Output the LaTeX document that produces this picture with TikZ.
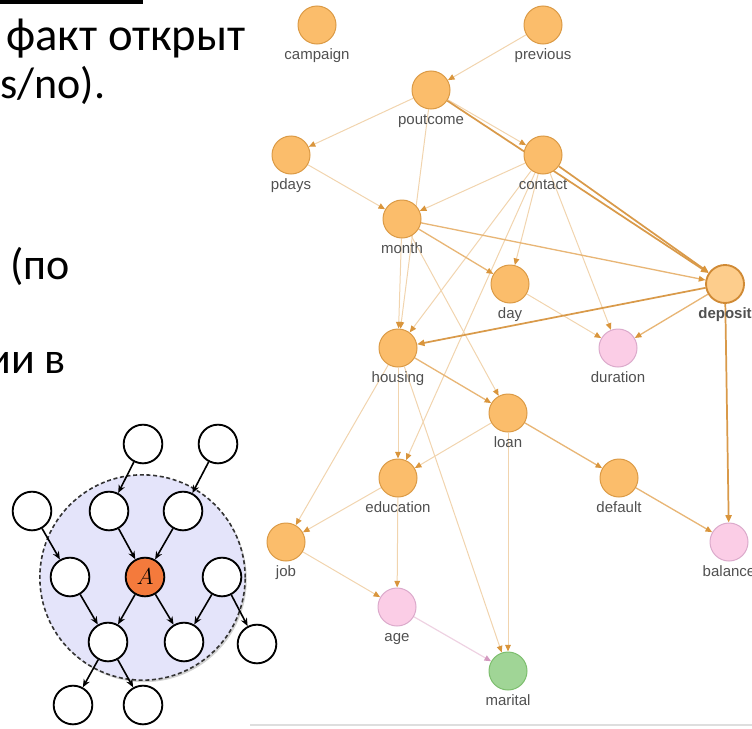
\documentclass[tikz,border=0pt]{standalone}
\usepackage{fontspec}
\setmainfont{Liberation Sans}
\newfontfamily\ruf{Carlito}
\usetikzlibrary{arrows.meta,shadows,backgrounds}
\definecolor{orfill}{HTML}{FBBD6B}
\definecolor{orline}{HTML}{DB9A45}
\definecolor{depfill}{HTML}{FDCD8C}
\definecolor{depline}{HTML}{D08A35}
\definecolor{pkfill}{HTML}{FBCDE6}
\definecolor{pkline}{HTML}{DBAACB}
\definecolor{grfill}{HTML}{A0D596}
\definecolor{grline}{HTML}{7DBE6E}
\definecolor{labcol}{HTML}{505050}
\definecolor{edL}{HTML}{F1D4AE}
\definecolor{edM}{HTML}{E8B676}
\definecolor{edD}{HTML}{D99A4A}
\definecolor{tipcol}{HTML}{D9953C}
\definecolor{edP}{HTML}{EED2E2}
\definecolor{tipP}{HTML}{D49AC0}
\definecolor{lav}{HTML}{E4E4FA}
\definecolor{aorange}{HTML}{F47A3C}
\tikzset{
  gn/.style={circle, minimum size=28.5pt, inner sep=0pt, line width=0.75pt, draw=orline, fill=orfill},
  pk/.style={gn, draw=pkline, fill=pkfill},
  gr/.style={gn, draw=grline, fill=grfill},
  dep/.style={gn, draw=depline, fill=depfill, line width=1.4pt},
  lab/.style={font=\fontsize{11.25pt}{12pt}\selectfont, text=labcol, inner sep=0pt},
  eL/.style={draw=edL, line width=0.75pt, -{Triangle[length=5pt,width=4.2pt,color=tipcol]}},
  eM/.style={draw=edM, line width=1pt, -{Triangle[length=5pt,width=4.2pt,color=tipcol]}},
  eD/.style={draw=edD, line width=1.3pt, -{Triangle[length=5.5pt,width=4.6pt,color=tipcol]}},
  eP/.style={draw=edP, line width=0.9pt, -{Triangle[length=5pt,width=4.2pt,color=tipP]}},
  mb/.style={circle, draw=black, line width=1.4pt, fill=white, minimum size=29pt, inner sep=0pt},
  mba/.style={draw=black, line width=1.2pt, -{Stealth[length=6pt,width=5pt]}},
  rut/.style={font=\ruf\fontsize{33pt}{36pt}\selectfont, inner sep=0pt, text=black},
}
\newcommand{\gnode}[5]{%
  \node[#4] (#1) at (#2,#3) {};
  \node[lab,anchor=base] (#1-l) at (#2,#3+34) {#5};}
\begin{document}
\begin{tikzpicture}[x=0.75pt,y=-0.75pt]
\useasboundingbox (0,0) rectangle (752,728);
\clip (0,0) rectangle (752,728);

% left text
\fill[black] (0,0) rectangle (143,3.5);
\node[rut,anchor=base west,font=\ruf\fontsize{35pt}{38pt}\selectfont] (t1) at (6,50) {факт открыт};
\node[rut,anchor=base west] (t2) at (0,98) {s/no).};
\node[rut,anchor=base west] (t3) at (10,279) {(по};
\node[rut,anchor=base west] (t4) at (-13,373) {ии в};

% bottom rule
\draw[line width=1.2pt, draw=black!13] (250,725) -- (752,725);

% graph nodes
\gnode{campaign}{317}{25}{gn}{campaign}
\gnode{previous}{543}{25}{gn}{previous}
\gnode{poutcome}{431}{90}{gn}{poutcome}
\gnode{pdays}{291}{155}{gn}{pdays}
\gnode{contact}{543}{155}{gn}{contact}
\gnode{month}{402}{219}{gn}{month}
\gnode{day}{510}{284}{gn}{day}
\gnode{deposit}{725}{284}{dep}{\bfseries deposit}
\gnode{housing}{398}{348}{gn}{housing}
\gnode{duration}{618}{348}{pk}{duration}
\gnode{loan}{508}{413}{gn}{loan}
\gnode{education}{398}{478}{gn}{education}
\gnode{default}{619}{478}{gn}{default}
\gnode{job}{286}{542}{gn}{job}
\gnode{balance}{729}{542}{pk}{balance}
\gnode{age}{397}{607}{pk}{age}
\gnode{marital}{508}{671}{gr}{marital}

\begin{pgfonlayer}{background}
\draw[eL] (previous) -- (poutcome);
\draw[eL] (poutcome) -- (pdays);
\draw[eL] (poutcome) -- (contact);
\draw[eD] (poutcome) -- (deposit);
\draw[eL] (poutcome) -- (housing);
\draw[eL] (pdays) -- (month);
\draw[eL] (contact) -- (month);
\draw[eL] (contact) -- (housing);
\draw[eL] (contact) -- (education);
\draw[eL] (contact) -- (day);
\draw[eL] (contact) -- (duration);
\draw[eD] (contact) -- (deposit);
\draw[eM] (month) -- (deposit);
\draw[eM] (month) -- (day);
\draw[eL] (month) -- (housing);
\draw[eL] (month) -- (loan);
\draw[eL] (day) -- (duration);
\draw[eD] (deposit) -- (housing);
\draw[eM] (deposit) -- (duration);
\draw[eD] (deposit) -- (balance);
\draw[eM] (housing) -- (loan);
\draw[eL] (housing) -- (education);
\draw[eL] (housing) -- (job);
\draw[eL] (housing) -- (marital);
\draw[eL] (loan) -- (education);
\draw[eM] (loan) -- (default);
\draw[eL] (loan) -- (marital);
\draw[eL] (education) -- (job);
\draw[eL] (education) -- (age);
\draw[eL] (job) -- (age);
\draw[eM] (default) -- (balance);
\draw[eP] (age) -- (marital);
\end{pgfonlayer}

% Markov blanket
\node[circle, minimum size=154pt, inner sep=0pt, fill=lav, draw=black!80, line width=1.2pt,
      dash pattern=on 3pt off 2pt,
      drop shadow={shadow xshift=1.2pt, shadow yshift=-1.5pt, opacity=0.35}] (blanket) at (142.5,577.5) {};
\node[mb] (mt1) at (143,444) {};
\node[mb] (mt2) at (218,444) {};
\node[mb] (ml1) at (32,511) {};
\node[mb] (mm1) at (109,511) {};
\node[mb] (mm2) at (183,511) {};
\node[mb] (mr1) at (70,577) {};
\node[mb, fill=aorange] (mA) at (145,577) {\fontsize{17pt}{17pt}\selectfont$A$};
\node[mb] (mr3) at (222,577) {};
\node[mb] (mb1) at (108,642) {};
\node[mb] (mb2) at (184,642) {};
\node[mb] (mb3) at (257,644) {};
\node[mb] (mc1) at (73,705) {};
\node[mb] (mc2) at (143,705) {};
\draw[mba] (mt1) -- (mm1);
\draw[mba] (mt2) -- (mm2);
\draw[mba] (ml1) -- (mr1);
\draw[mba] (mm1) -- (mA);
\draw[mba] (mm2) -- (mA);
\draw[mba] (mr1) -- (mb1);
\draw[mba] (mA) -- (mb1);
\draw[mba] (mA) -- (mb2);
\draw[mba] (mr3) -- (mb2);
\draw[mba] (mr3) -- (mb3);
\draw[mba] (mb1) -- (mc1);
\draw[mba] (mb1) -- (mc2);
\end{tikzpicture}
\end{document}
